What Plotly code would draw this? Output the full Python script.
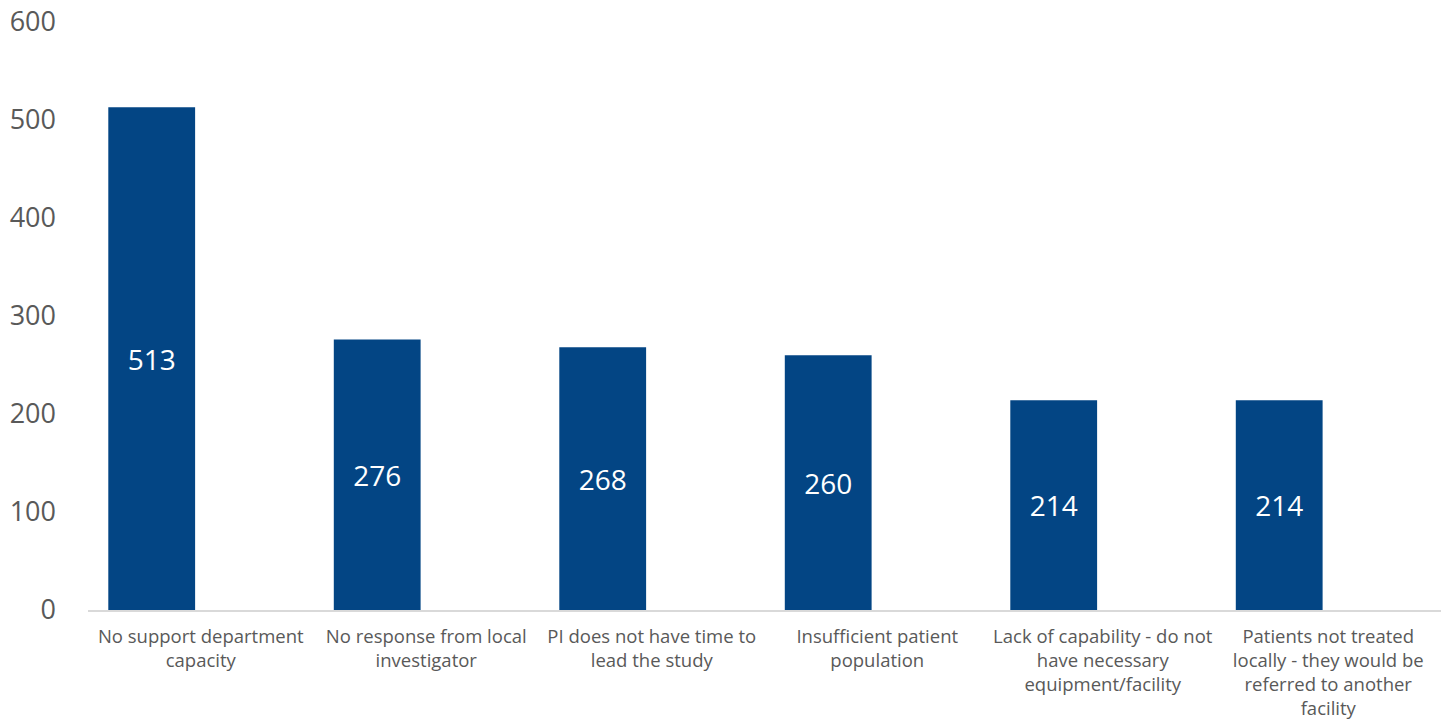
import plotly.graph_objects as go

categories = [
    "No support department<br>capacity",
    "No response from local<br>investigator",
    "PI does not have time to<br>lead the study",
    "Insufficient patient<br>population",
    "Lack of capability - do not<br>have necessary<br>equipment/facility",
    "Patients not treated<br>locally - they would be<br>referred to another<br>facility",
]
values = [513, 276, 268, 260, 214, 214]
y_ticks = [0, 100, 200, 300, 400, 500, 600]

fig = go.Figure()
fig.add_trace(go.Bar(
    x=categories, y=values,
    marker=dict(color="#034584", line=dict(width=0)),
    width=0.385, offset=-0.41,
    text=[str(v) for v in values],
    textposition="inside", insidetextanchor="middle",
    textfont=dict(color="white", size=28, family="Open Sans"),
    textangle=0,
    showlegend=False,
))

fig.update_layout(
    width=1441, height=726,
    margin=dict(l=88, r=0, t=22, b=116),
    plot_bgcolor="white", paper_bgcolor="white",
    font=dict(family="Open Sans", color="#595959"),
)
fig.update_yaxes(
    range=[0, 600], tickvals=y_ticks, showgrid=False, zeroline=False,
    showline=False, tickfont=dict(size=27, color="#595959"),
    ticklabelstandoff=31, automargin=False, ticklabeloverflow="allow",
)
fig.update_xaxes(
    showline=True, linecolor="#D9D9D9", linewidth=2, showgrid=False,
    tickfont=dict(size=18.5, color="#595959"), ticks="", tickangle=0,
    ticklabelstandoff=9, automargin=False,
)

fig.write_html(
    "out.html",
    config={"displayModeBar": False},
    post_script="document.body.style.margin='0';document.body.style.overflow='hidden';",
)
